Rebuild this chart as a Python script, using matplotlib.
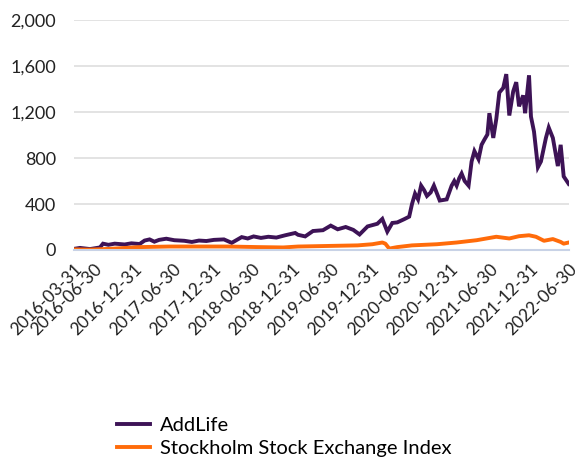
import matplotlib
matplotlib.use("Agg")
import matplotlib.pyplot as plt
import pandas as pd

addlife_dates = [
    "2016-03-31", "2016-04-27", "2016-06-12", "2016-07-28", "2016-08-11", "2016-09-05",
    "2016-10-04", "2016-11-19", "2016-12-20", "2017-01-27", "2017-02-19", "2017-03-14",
    "2017-04-05", "2017-04-27", "2017-05-30", "2017-07-06", "2017-08-21", "2017-09-25",
    "2017-10-28", "2017-12-01", "2018-01-05", "2018-02-20", "2018-03-28", "2018-05-13",
    "2018-06-10", "2018-07-07", "2018-08-10", "2018-09-13", "2018-10-20", "2018-11-30",
    "2019-01-15", "2019-01-28", "2019-03-02", "2019-04-07", "2019-05-23", "2019-06-28",
    "2019-07-30", "2019-09-05", "2019-10-10", "2019-11-08", "2019-12-15", "2020-01-29",
    "2020-02-21", "2020-03-15", "2020-04-07", "2020-04-30", "2020-06-01", "2020-06-24",
    "2020-07-07", "2020-07-21", "2020-08-04", "2020-08-18", "2020-09-01", "2020-09-14",
    "2020-10-01", "2020-10-16", "2020-11-12", "2020-12-14", "2021-01-06", "2021-01-18",
    "2021-01-29", "2021-02-10", "2021-02-21", "2021-03-07", "2021-03-25", "2021-04-08",
    "2021-04-21", "2021-05-10", "2021-05-24", "2021-06-06", "2021-06-20", "2021-06-29",
    "2021-07-17", "2021-07-31", "2021-08-14", "2021-09-01", "2021-09-15", "2021-09-29",
    "2021-10-17", "2021-10-31", "2021-11-13", "2021-12-02", "2021-12-11", "2021-12-29",
    "2022-01-07", "2022-01-21", "2022-02-08", "2022-02-22", "2022-03-17", "2022-03-30",
    "2022-04-18", "2022-05-11", "2022-05-24", "2022-06-07", "2022-06-30",
]
addlife_values = [
    10, 18, 8, 22, 55, 45,
    55, 48, 58, 52, 82, 92,
    72, 88, 98, 85, 80, 70,
    82, 78, 88, 92, 62, 112,
    100, 118, 105, 115, 108, 128,
    148, 132, 118, 165, 172, 212,
    180, 200, 175, 135, 205, 228,
    270, 160, 235, 240, 268, 290,
    400, 490, 440, 560, 520, 470,
    500, 560, 430, 440, 560, 600,
    560, 625, 665, 600, 560, 770,
    860, 790, 915, 960, 1005, 1190,
    975, 1140, 1370, 1410, 1530, 1170,
    1380, 1460, 1250, 1345, 1190, 1520,
    1160, 1030, 720, 770, 975, 1065,
    975, 730, 915, 640, 575,
]

index_dates = [
    "2016-03-31", "2016-06-12", "2016-09-12", "2017-01-27", "2017-06-13", "2017-10-28",
    "2018-03-14", "2018-07-30", "2018-11-21", "2019-01-28", "2019-06-15", "2019-10-30",
    "2020-01-06", "2020-02-21", "2020-03-06", "2020-03-24", "2020-04-30", "2020-07-07",
    "2020-10-30", "2021-01-29", "2021-05-01", "2021-07-31", "2021-09-29", "2021-11-13",
    "2021-12-29", "2022-01-30", "2022-03-08", "2022-04-18", "2022-05-24", "2022-06-07",
    "2022-06-30",
]
index_values = [
    5, 3, 10, 25, 30, 30,
    30, 25, 22, 30, 35, 40,
    50, 65, 55, 12, 25, 40,
    50, 65, 85, 115, 100, 120,
    128, 115, 80, 95, 70, 55,
    65,
]

tick_dates = [
    "2016-03-31", "2016-06-30", "2016-12-31", "2017-06-30", "2017-12-31", "2018-06-30",
    "2018-12-31", "2019-06-30", "2019-12-31", "2020-06-30", "2020-12-31", "2021-06-30",
    "2021-12-31", "2022-06-30",
]
y_ticks = [0, 400, 800, 1200, 1600, 2000]

plt.rcParams["font.family"] = ["Lato", "DejaVu Sans"]

fig = plt.figure(figsize=(5.75, 4.57), dpi=100)
ax = fig.add_axes([0.129, 0.453, 0.86, 0.503])

ax.plot(pd.to_datetime(addlife_dates), addlife_values, color="#3d1356", lw=2.8,
        label="AddLife", solid_joinstyle="miter")
ax.plot(pd.to_datetime(index_dates), index_values, color="#ff6b0a", lw=2.8,
        label="Stockholm Stock Exchange Index", solid_joinstyle="round")

ax.set_xlim(pd.Timestamp("2016-03-31"), pd.Timestamp("2022-06-30"))
ax.set_ylim(0, 2000)
ax.set_yticks(y_ticks)
ax.set_yticklabels([f"{v:,}" for v in y_ticks])
ax.set_xticks(pd.to_datetime(tick_dates))
ax.set_xticklabels(tick_dates, rotation=45, ha="right", rotation_mode="anchor")
ax.tick_params(axis="both", length=0, labelsize=13, colors="#222222")
ax.tick_params(axis="x", labelsize=12.5)
ax.tick_params(axis="y", pad=13)
ax.tick_params(axis="x", pad=8)

ax.grid(axis="y", color="#e3e3e3", lw=1.4)
ax.set_axisbelow(True)
for side in ["left", "right", "top"]:
    ax.spines[side].set_visible(False)
ax.spines["bottom"].set_color("#c8d2e6")
ax.spines["bottom"].set_linewidth(1.5)

fig.legend(loc="upper left", bbox_to_anchor=(0.19, 0.106), frameon=False,
           fontsize=14.5, handlelength=1.6, labelspacing=0.3, handletextpad=0.5,
           borderaxespad=0)

fig.savefig("out.png", dpi=100)
